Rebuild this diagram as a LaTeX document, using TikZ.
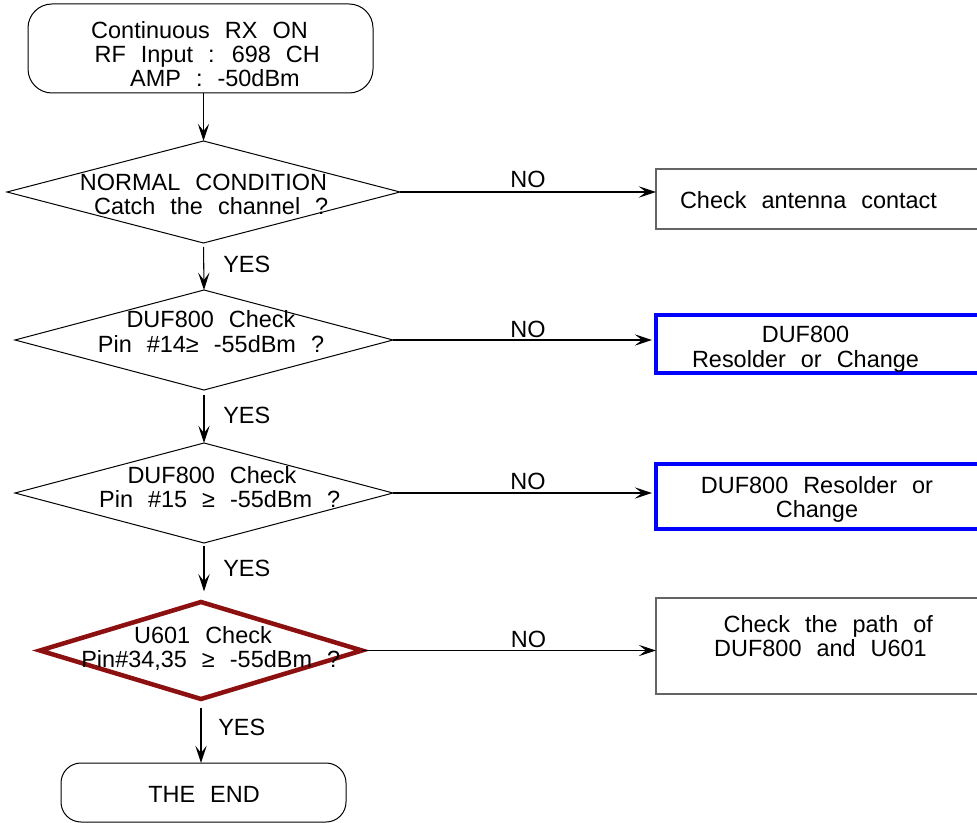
\documentclass[tikz,border=0pt]{standalone}
\usepackage{fontspec}
\setmainfont{Liberation Sans}[WordSpace=2.3]
\usetikzlibrary{shapes.geometric, arrows.meta}
\definecolor{boxblue}{RGB}{0,0,255}
\definecolor{checkred}{RGB}{140,16,16}
\definecolor{framegray}{RGB}{100,100,100}
% one leading word space in front of a line
\newcommand{\leadsp}{\hspace*{11.6pt}}

\begin{document}
\begin{tikzpicture}[x=0.75pt, y=-0.75pt,
  txt/.style={font=\fontsize{17.6pt}{18pt}\selectfont, inner sep=0pt, align=center, anchor=base},
  lbl/.style={font=\fontsize{17.6pt}{18pt}\selectfont, inner sep=0pt, anchor=base west},
  dia/.style={draw, shape=diamond, inner sep=0pt, outer sep=0pt, line width=0.75pt},
  reddia/.style={dia, draw=checkred, line width=3.4pt, miter limit=20},
  term/.style={draw, rectangle, rounded corners=#1, inner sep=0pt, outer sep=0pt, line width=0.75pt},
  plainbox/.style={draw=framegray, rectangle, inner sep=0pt, outer sep=0pt, line width=1.1pt},
  bluebox/.style={draw=boxblue, rectangle, inner sep=0pt, outer sep=0pt, line width=3pt},
  arr/.style={line width=0.8pt, -{Stealth[length=13pt, width=8.5pt, inset=5.5pt]}},
]
\useasboundingbox (0,0) rectangle (977,823);
\clip (0,0) rectangle (977,823);

% flow shapes
\node[term=18pt, minimum width=258.75pt, minimum height=66.75pt] (start) at (200.5,48.5) {};
\node[dia, minimum width=294.75pt, minimum height=76.5pt] (d1) at (203.5,192) {};
\node[dia, minimum width=283.5pt, minimum height=75pt] (d2) at (204,340) {};
\node[dia, minimum width=283.5pt, minimum height=75pt] (d3) at (204,493) {};
\node[reddia, minimum width=241.5pt, minimum height=72.75pt] (d4) at (201,650.5) {};
\node[term=15pt, minimum width=213.75pt, minimum height=44.25pt] (end) at (203.5,792.5) {};

% action boxes on the right
\node[plainbox, minimum width=250.5pt, minimum height=45pt] (b1) at (823,199) {};
\node[bluebox, minimum width=250.5pt, minimum height=43.5pt] (b2) at (823,344) {};
\node[bluebox, minimum width=250.5pt, minimum height=48.75pt] (b3) at (823,496.5) {};
\node[plainbox, minimum width=250.5pt, minimum height=72pt] (b4) at (823,646) {};

% texts (base anchor = baseline of the last line)
\node[txt] (tstart) at (199.5,87) {Continuous RX ON\\\leadsp RF Input : 698 CH\\\leadsp\leadsp AMP : -50dBm};
\node[txt] (td1) at (203.5,215) {NORMAL CONDITION\\\leadsp Catch the channel ?};
\node[txt] (td2) at (211,352) {DUF800 Check\\Pin \#14≥ -55dBm ?};
\node[txt] (td3) at (212,507) {DUF800 Check\\\leadsp Pin \#15 ≥ -55dBm ?};
\node[txt] (td4) at (203,667) {U601 Check\\\leadsp Pin\#34,35 ≥ -55dBm ?};
\node[txt] (tend) at (204,802) {THE END};
\node[txt] (tb1) at (808.5,209) {Check antenna contact};
\node[txt] (tb2) at (805.5,367) {DUF800\\Resolder or Change};
\node[txt] (tb3) at (817,517) {DUF800 Resolder or\\Change};
\node[txt] (tb4) at (820.5,656) {\leadsp Check the path of\\DUF800 and U601};

% main column
\draw[arr] (d1.north |- start.south) -- (d1.north);
\draw[arr, shorten <=3pt] (d1.south) -- (d2.north);
\draw[arr, shorten <=4pt] (d2.south) -- (d3.north);
\draw[arr, shorten <=2pt, shorten >=8pt] (d3.south) -- (d3.south |- d4.north);
\draw[arr, shorten <=6.5pt] (d4.south) -- (d4.south |- end.north);

% NO branches
\draw[arr] (d1.east) -- (d1.east -| b1.west);
\draw[arr, shorten >=3pt] (d2.east) -- (d2.east -| b2.west);
\draw[arr, shorten >=3pt] (d3.east) -- (d3.east -| b3.west);
\draw[arr] (d4.east) -- (d4.east -| b4.west);

% branch labels
\node[txt] (no1) at (528,188) {NO};
\node[txt] (no2) at (528,338) {NO};
\node[txt] (no3) at (528,489) {NO};
\node[txt] (no4) at (528.5,647) {NO};
\node[lbl] (yes1) at (223,273) {YES};
\node[lbl] (yes2) at (223,423) {YES};
\node[lbl] (yes3) at (223,576) {YES};
\node[lbl] (yes4) at (218,735) {YES};
\end{tikzpicture}
\end{document}
